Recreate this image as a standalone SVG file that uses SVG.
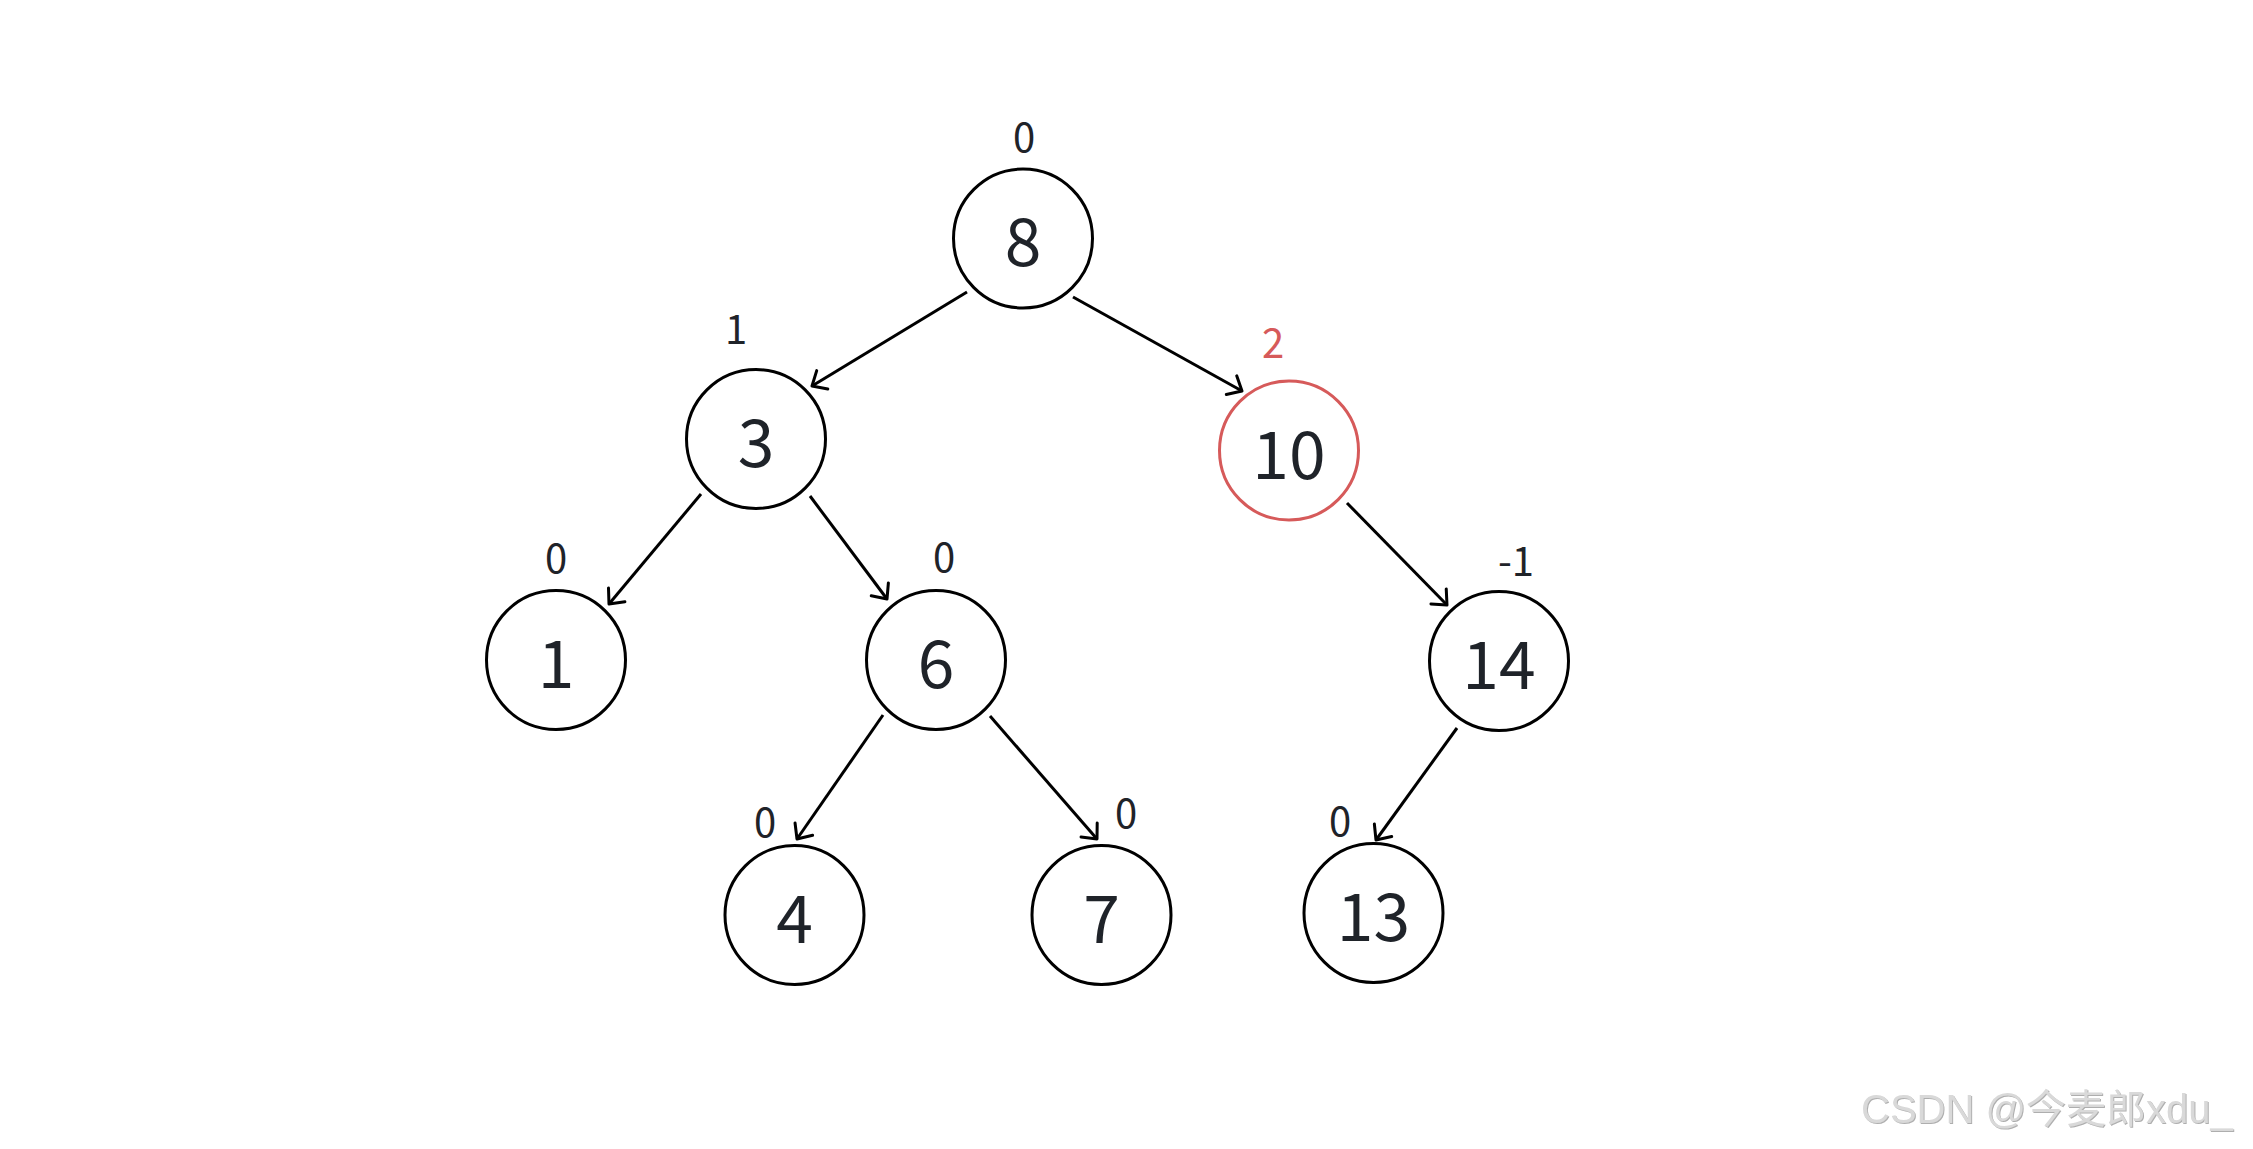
<svg xmlns="http://www.w3.org/2000/svg" width="2253" height="1149" viewBox="0 0 2253 1149">
<style>
.n circle{fill:#ffffff;stroke:#000000;stroke-width:3}
.n circle.red{stroke:#d65a5a}
.n text{font-family:"Noto Sans CJK SC","Noto Sans",sans-serif;font-size:66px;fill:#1f2329;text-anchor:middle}
.lb{font-family:"Noto Sans CJK SC","Noto Sans",sans-serif;font-size:40px;fill:#1f2329;text-anchor:middle}
.lb.red{fill:#d65a5a}
#edges line{stroke:#000000;stroke-width:3;marker-end:url(#arr)}
.wm{font-family:"Liberation Sans","Noto Sans CJK SC",sans-serif;font-size:40px;fill:#d9d9d9}
</style>
<defs>
<marker id="arr" markerUnits="userSpaceOnUse" viewBox="-16 -15 20 30" refX="0" refY="0" markerWidth="20" markerHeight="30" orient="auto" overflow="visible">
<path d="M-12,-10.7 L0,0 L-12,10.7" fill="none" stroke="#000000" stroke-width="3" stroke-linecap="round" stroke-linejoin="round"/>
</marker>
<filter id="emb" x="-5%" y="-20%" width="110%" height="140%">
<feDropShadow dx="1" dy="1" stdDeviation="0.6" flood-color="#9a9a9a" flood-opacity="0.8"/>
</filter>
</defs>
<rect width="2253" height="1149" fill="#ffffff"/>
<g id="edges">
<line x1="967" y1="292" x2="812" y2="386"/>
<line x1="1073" y1="297" x2="1242" y2="391"/>
<line x1="701" y1="494" x2="609" y2="604"/>
<line x1="810" y1="496" x2="887" y2="599"/>
<line x1="883" y1="715" x2="797" y2="839"/>
<line x1="990" y1="716" x2="1097" y2="839"/>
<line x1="1347" y1="503" x2="1447" y2="605"/>
<line x1="1457" y1="728" x2="1376" y2="840"/>
</g>
<g id="node-8" class="n"><circle cx="1023" cy="238.5" r="69.5"/><text x="1023" y="266">8</text></g>
<g id="node-3" class="n"><circle cx="756" cy="439" r="69.5"/><text x="756" y="467">3</text></g>
<g id="node-10" class="n"><circle class="red" cx="1289" cy="450.5" r="69.5"/><text x="1289" y="479">10</text></g>
<g id="node-1" class="n"><circle cx="556" cy="660" r="69.5"/><text x="556" y="688">1</text></g>
<g id="node-6" class="n"><circle cx="936" cy="660" r="69.5"/><text x="936" y="688">6</text></g>
<g id="node-14" class="n"><circle cx="1499" cy="661" r="69.5"/><text x="1499" y="689">14</text></g>
<g id="node-4" class="n"><circle cx="794.5" cy="915" r="69.5"/><text x="794.5" y="943">4</text></g>
<g id="node-7" class="n"><circle cx="1101.5" cy="915" r="69.5"/><text x="1101.5" y="943">7</text></g>
<g id="node-13" class="n"><circle cx="1373.5" cy="913" r="69.5"/><text x="1373.5" y="941">13</text></g>
<g id="labels">
<text class="lb" x="1024" y="152">0</text>
<text class="lb" x="736" y="344">1</text>
<text class="lb red" x="1273" y="358">2</text>
<text class="lb" x="556" y="573">0</text>
<text class="lb" x="944" y="572">0</text>
<text class="lb" x="1516" y="576">-1</text>
<text class="lb" x="765" y="837">0</text>
<text class="lb" x="1126" y="828">0</text>
<text class="lb" x="1340" y="836">0</text>
</g>
<text class="wm" x="1861" y="1123" filter="url(#emb)">CSDN @今麦郎xdu_</text>
</svg>
